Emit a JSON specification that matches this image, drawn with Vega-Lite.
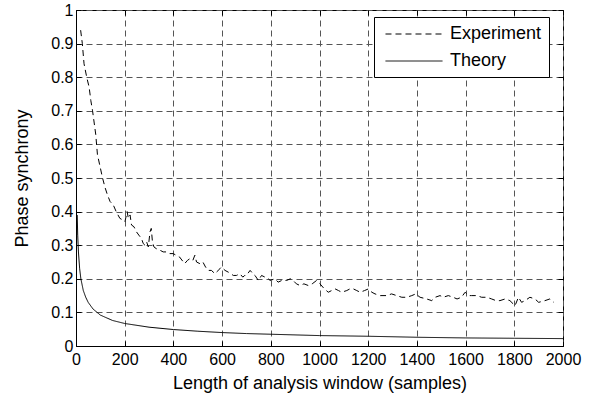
{
  "$schema": "https://vega.github.io/schema/vega-lite/v6.json",
  "width": 487,
  "height": 336,
  "autosize": "none",
  "padding": {"left": 76, "top": 10, "right": 38, "bottom": 54},
  "background": "white",
  "config": {
    "font": "Liberation Sans",
    "view": {"stroke": "black", "strokeWidth": 1},
    "axis": {
      "domainColor": "black",
      "tickColor": "black",
      "labelColor": "black",
      "titleColor": "black",
      "labelFont": "Liberation Sans",
      "titleFont": "Liberation Sans",
      "labelFontSize": 16,
      "titleFontSize": 18,
      "titleFontWeight": "normal",
      "labelOverlap": false,
      "labelFlush": false,
      "labelBound": false,
      "gridColor": "#555555",
      "gridDash": [6, 4],
      "gridOpacity": 1,
      "gridWidth": 1
    }
  },
  "datasets": {
    "curves": [
      {"series": "Experiment", "n": 19, "value": 0.94},
      {"series": "Experiment", "n": 26, "value": 0.90},
      {"series": "Experiment", "n": 33, "value": 0.84},
      {"series": "Experiment", "n": 44, "value": 0.80},
      {"series": "Experiment", "n": 54, "value": 0.77},
      {"series": "Experiment", "n": 61, "value": 0.73},
      {"series": "Experiment", "n": 68, "value": 0.70},
      {"series": "Experiment", "n": 81, "value": 0.63},
      {"series": "Experiment", "n": 88, "value": 0.57},
      {"series": "Experiment", "n": 100, "value": 0.53},
      {"series": "Experiment", "n": 109, "value": 0.50},
      {"series": "Experiment", "n": 120, "value": 0.47},
      {"series": "Experiment", "n": 129, "value": 0.45},
      {"series": "Experiment", "n": 140, "value": 0.43},
      {"series": "Experiment", "n": 153, "value": 0.42},
      {"series": "Experiment", "n": 165, "value": 0.40},
      {"series": "Experiment", "n": 180, "value": 0.38},
      {"series": "Experiment", "n": 192, "value": 0.375},
      {"series": "Experiment", "n": 201, "value": 0.37},
      {"series": "Experiment", "n": 210, "value": 0.40},
      {"series": "Experiment", "n": 215, "value": 0.38},
      {"series": "Experiment", "n": 222, "value": 0.39},
      {"series": "Experiment", "n": 228, "value": 0.36},
      {"series": "Experiment", "n": 238, "value": 0.355},
      {"series": "Experiment", "n": 248, "value": 0.34},
      {"series": "Experiment", "n": 258, "value": 0.33},
      {"series": "Experiment", "n": 269, "value": 0.32},
      {"series": "Experiment", "n": 276, "value": 0.305},
      {"series": "Experiment", "n": 283, "value": 0.30},
      {"series": "Experiment", "n": 290, "value": 0.31},
      {"series": "Experiment", "n": 297, "value": 0.295},
      {"series": "Experiment", "n": 304, "value": 0.34},
      {"series": "Experiment", "n": 309, "value": 0.35},
      {"series": "Experiment", "n": 314, "value": 0.31},
      {"series": "Experiment", "n": 320, "value": 0.295},
      {"series": "Experiment", "n": 329, "value": 0.29},
      {"series": "Experiment", "n": 345, "value": 0.285},
      {"series": "Experiment", "n": 358, "value": 0.28},
      {"series": "Experiment", "n": 372, "value": 0.28},
      {"series": "Experiment", "n": 385, "value": 0.275},
      {"series": "Experiment", "n": 399, "value": 0.275},
      {"series": "Experiment", "n": 412, "value": 0.27},
      {"series": "Experiment", "n": 425, "value": 0.265},
      {"series": "Experiment", "n": 441, "value": 0.25},
      {"series": "Experiment", "n": 446, "value": 0.245},
      {"series": "Experiment", "n": 458, "value": 0.255},
      {"series": "Experiment", "n": 468, "value": 0.26},
      {"series": "Experiment", "n": 480, "value": 0.255},
      {"series": "Experiment", "n": 488, "value": 0.27},
      {"series": "Experiment", "n": 495, "value": 0.25},
      {"series": "Experiment", "n": 509, "value": 0.245},
      {"series": "Experiment", "n": 521, "value": 0.25},
      {"series": "Experiment", "n": 532, "value": 0.235},
      {"series": "Experiment", "n": 543, "value": 0.225},
      {"series": "Experiment", "n": 556, "value": 0.225},
      {"series": "Experiment", "n": 571, "value": 0.215},
      {"series": "Experiment", "n": 577, "value": 0.22},
      {"series": "Experiment", "n": 591, "value": 0.23},
      {"series": "Experiment", "n": 597, "value": 0.235},
      {"series": "Experiment", "n": 612, "value": 0.225},
      {"series": "Experiment", "n": 625, "value": 0.22},
      {"series": "Experiment", "n": 636, "value": 0.215},
      {"series": "Experiment", "n": 646, "value": 0.21},
      {"series": "Experiment", "n": 659, "value": 0.21},
      {"series": "Experiment", "n": 673, "value": 0.215},
      {"series": "Experiment", "n": 685, "value": 0.205},
      {"series": "Experiment", "n": 693, "value": 0.21},
      {"series": "Experiment", "n": 700, "value": 0.21},
      {"series": "Experiment", "n": 715, "value": 0.225},
      {"series": "Experiment", "n": 727, "value": 0.215},
      {"series": "Experiment", "n": 735, "value": 0.21},
      {"series": "Experiment", "n": 749, "value": 0.195},
      {"series": "Experiment", "n": 762, "value": 0.21},
      {"series": "Experiment", "n": 776, "value": 0.205},
      {"series": "Experiment", "n": 790, "value": 0.20},
      {"series": "Experiment", "n": 797, "value": 0.195},
      {"series": "Experiment", "n": 817, "value": 0.20},
      {"series": "Experiment", "n": 830, "value": 0.19},
      {"series": "Experiment", "n": 845, "value": 0.195},
      {"series": "Experiment", "n": 865, "value": 0.195},
      {"series": "Experiment", "n": 880, "value": 0.20},
      {"series": "Experiment", "n": 892, "value": 0.195},
      {"series": "Experiment", "n": 905, "value": 0.185},
      {"series": "Experiment", "n": 920, "value": 0.18},
      {"series": "Experiment", "n": 936, "value": 0.185},
      {"series": "Experiment", "n": 954, "value": 0.18},
      {"series": "Experiment", "n": 970, "value": 0.185},
      {"series": "Experiment", "n": 988, "value": 0.195},
      {"series": "Experiment", "n": 1002, "value": 0.185},
      {"series": "Experiment", "n": 1020, "value": 0.17},
      {"series": "Experiment", "n": 1036, "value": 0.16},
      {"series": "Experiment", "n": 1050, "value": 0.165},
      {"series": "Experiment", "n": 1064, "value": 0.17},
      {"series": "Experiment", "n": 1078, "value": 0.165},
      {"series": "Experiment", "n": 1091, "value": 0.16},
      {"series": "Experiment", "n": 1112, "value": 0.165},
      {"series": "Experiment", "n": 1125, "value": 0.17},
      {"series": "Experiment", "n": 1139, "value": 0.17},
      {"series": "Experiment", "n": 1153, "value": 0.165},
      {"series": "Experiment", "n": 1167, "value": 0.16},
      {"series": "Experiment", "n": 1185, "value": 0.165},
      {"series": "Experiment", "n": 1201, "value": 0.17},
      {"series": "Experiment", "n": 1215, "value": 0.16},
      {"series": "Experiment", "n": 1228, "value": 0.155},
      {"series": "Experiment", "n": 1250, "value": 0.15},
      {"series": "Experiment", "n": 1276, "value": 0.15},
      {"series": "Experiment", "n": 1296, "value": 0.155},
      {"series": "Experiment", "n": 1317, "value": 0.15},
      {"series": "Experiment", "n": 1338, "value": 0.145},
      {"series": "Experiment", "n": 1358, "value": 0.145},
      {"series": "Experiment", "n": 1379, "value": 0.15},
      {"series": "Experiment", "n": 1395, "value": 0.155},
      {"series": "Experiment", "n": 1413, "value": 0.145},
      {"series": "Experiment", "n": 1440, "value": 0.14},
      {"series": "Experiment", "n": 1461, "value": 0.135},
      {"series": "Experiment", "n": 1475, "value": 0.145},
      {"series": "Experiment", "n": 1495, "value": 0.15},
      {"series": "Experiment", "n": 1508, "value": 0.145},
      {"series": "Experiment", "n": 1529, "value": 0.15},
      {"series": "Experiment", "n": 1549, "value": 0.145},
      {"series": "Experiment", "n": 1565, "value": 0.14},
      {"series": "Experiment", "n": 1583, "value": 0.145},
      {"series": "Experiment", "n": 1598, "value": 0.16},
      {"series": "Experiment", "n": 1612, "value": 0.15},
      {"series": "Experiment", "n": 1625, "value": 0.15},
      {"series": "Experiment", "n": 1646, "value": 0.15},
      {"series": "Experiment", "n": 1666, "value": 0.145},
      {"series": "Experiment", "n": 1687, "value": 0.145},
      {"series": "Experiment", "n": 1707, "value": 0.14},
      {"series": "Experiment", "n": 1725, "value": 0.135},
      {"series": "Experiment", "n": 1741, "value": 0.135},
      {"series": "Experiment", "n": 1762, "value": 0.14},
      {"series": "Experiment", "n": 1782, "value": 0.135},
      {"series": "Experiment", "n": 1803, "value": 0.12},
      {"series": "Experiment", "n": 1817, "value": 0.145},
      {"series": "Experiment", "n": 1830, "value": 0.13},
      {"series": "Experiment", "n": 1844, "value": 0.135},
      {"series": "Experiment", "n": 1864, "value": 0.145},
      {"series": "Experiment", "n": 1885, "value": 0.14},
      {"series": "Experiment", "n": 1900, "value": 0.13},
      {"series": "Experiment", "n": 1926, "value": 0.135},
      {"series": "Experiment", "n": 1946, "value": 0.14},
      {"series": "Experiment", "n": 1962, "value": 0.13},
      {"series": "Theory", "n": 5, "value": 0.39},
      {"series": "Theory", "n": 7, "value": 0.33},
      {"series": "Theory", "n": 10, "value": 0.28},
      {"series": "Theory", "n": 15, "value": 0.23},
      {"series": "Theory", "n": 20, "value": 0.20},
      {"series": "Theory", "n": 30, "value": 0.165},
      {"series": "Theory", "n": 40, "value": 0.145},
      {"series": "Theory", "n": 50, "value": 0.13},
      {"series": "Theory", "n": 70, "value": 0.11},
      {"series": "Theory", "n": 100, "value": 0.092},
      {"series": "Theory", "n": 150, "value": 0.076},
      {"series": "Theory", "n": 200, "value": 0.067},
      {"series": "Theory", "n": 300, "value": 0.056},
      {"series": "Theory", "n": 400, "value": 0.049},
      {"series": "Theory", "n": 500, "value": 0.044},
      {"series": "Theory", "n": 600, "value": 0.040},
      {"series": "Theory", "n": 700, "value": 0.037},
      {"series": "Theory", "n": 850, "value": 0.034},
      {"series": "Theory", "n": 1000, "value": 0.031},
      {"series": "Theory", "n": 1200, "value": 0.029},
      {"series": "Theory", "n": 1400, "value": 0.026},
      {"series": "Theory", "n": 1600, "value": 0.024},
      {"series": "Theory", "n": 1800, "value": 0.023},
      {"series": "Theory", "n": 2000, "value": 0.022}
    ]
  },
  "data": {"name": "curves"},
  "layer": [
    {
      "mark": {"type": "line", "color": "black", "strokeWidth": 1, "clip": true},
      "encoding": {
        "x": {
          "field": "n",
          "type": "quantitative",
          "scale": {"domain": [0, 2000], "nice": false, "zero": false},
          "axis": {
            "orient": "bottom",
            "values": [0, 200, 400, 600, 800, 1000, 1200, 1400, 1600, 1800, 2000],
            "format": "d",
            "grid": true,
            "tickSize": -5,
            "labelPadding": 10,
            "title": "Length of analysis window (samples)",
            "titlePadding": 7
          }
        },
        "y": {
          "field": "value",
          "type": "quantitative",
          "scale": {"domain": [0, 1], "nice": false},
          "axis": {
            "orient": "left",
            "values": [0, 0.1, 0.2, 0.3, 0.4, 0.5, 0.6, 0.7, 0.8, 0.9, 1],
            "format": "~g",
            "grid": true,
            "tickSize": -5,
            "labelPadding": 8,
            "title": "Phase synchrony",
            "titlePadding": 19
          }
        },
        "strokeDash": {
          "field": "series",
          "type": "nominal",
          "scale": {"domain": ["Experiment", "Theory"], "range": [[6, 4], [1, 0]]},
          "legend": {
            "title": null,
            "orient": "none",
            "legendX": 298,
            "legendY": 7,
            "symbolType": "M-0.58,0H5.42",
            "symbolSize": 361,
            "symbolStrokeColor": "black",
            "symbolStrokeWidth": 1,
            "labelFont": "Liberation Sans",
            "labelFontSize": 18,
            "labelColor": "black",
            "labelOffset": 49,
            "strokeColor": "black",
            "fillColor": "white",
            "padding": 7,
            "rowPadding": 8
          }
        }
      }
    },
    {
      "mark": {"type": "line", "opacity": 0},
      "encoding": {
        "x": {
          "field": "n",
          "type": "quantitative",
          "axis": {
            "orient": "top",
            "values": [0, 200, 400, 600, 800, 1000, 1200, 1400, 1600, 1800, 2000],
            "labels": false,
            "title": null,
            "grid": false,
            "domain": false,
            "tickSize": -5
          }
        },
        "y": {
          "field": "value",
          "type": "quantitative",
          "axis": {
            "orient": "right",
            "values": [0, 0.1, 0.2, 0.3, 0.4, 0.5, 0.6, 0.7, 0.8, 0.9, 1],
            "labels": false,
            "title": null,
            "grid": false,
            "domain": false,
            "tickSize": -5
          }
        },
        "detail": {"field": "series"}
      }
    }
  ],
  "resolve": {"axis": {"x": "independent", "y": "independent"}}
}
